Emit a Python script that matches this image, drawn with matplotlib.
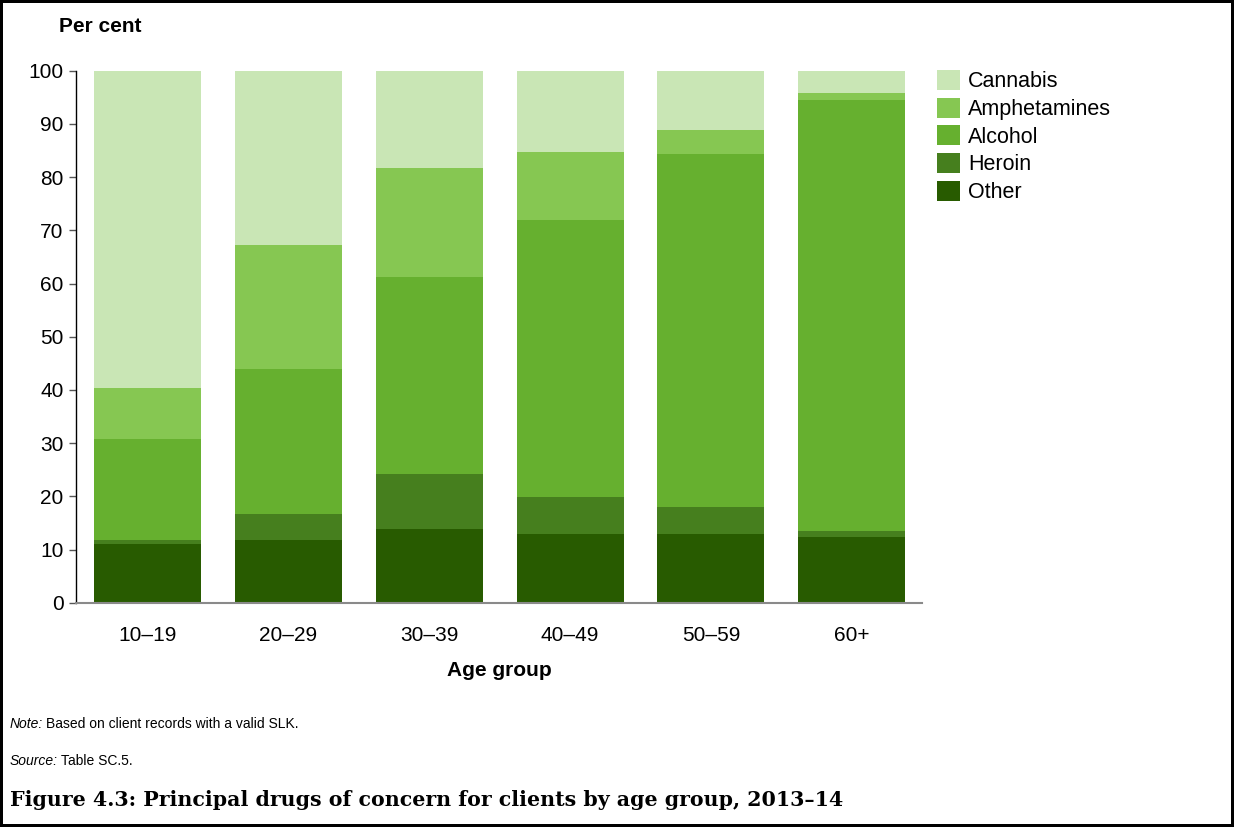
import numpy as np
import matplotlib
matplotlib.use('Agg')
import matplotlib.pyplot as plt

plt.rcParams['font.family'] = ['Liberation Sans', 'DejaVu Sans']

# 연령대별 주요 약물 (%)
age_groups = ['10–19', '20–29', '30–39', '40–49', '50–59', '60+']
other = [11.0, 11.8, 13.9, 12.9, 13.0, 12.3]
heroin = [0.7, 4.8, 10.3, 7.0, 5.0, 1.2]
alcohol = [19.1, 27.4, 37.0, 52.0, 66.3, 81.0]
amphetamines = [9.6, 23.2, 20.6, 12.9, 4.6, 1.3]
cannabis = [59.6, 32.8, 18.2, 15.2, 11.1, 4.2]

series = [('Other', other, '#285B00'),
          ('Heroin', heroin, '#467F1E'),
          ('Alcohol', alcohol, '#66B02F'),
          ('Amphetamines', amphetamines, '#86C752'),
          ('Cannabis', cannabis, '#C9E6B5')]

W, H = 1234, 827
fig = plt.figure(figsize=(W/100, H/100), dpi=100)
fig.patch.set_edgecolor('black')
fig.patch.set_linewidth(3)
ax = fig.add_axes([76/W, 1-602.7/H, (922-76)/W, (602.7-70.7)/H])

x = np.arange(len(age_groups))
bottom = np.zeros(len(age_groups))
handles = []
for name, vals, col in series:
    b = ax.bar(x, vals, width=0.76, bottom=bottom, color=col, label=name, zorder=2)
    handles.append(b)
    bottom += np.array(vals)

ax.set_xlim(-0.51, 5.5)
ax.set_ylim(0, 100)
ax.set_yticks(range(0, 101, 10))
ax.set_xticks(x)
ax.set_xticklabels(age_groups)
ax.tick_params(axis='y', labelsize=15, length=5, width=1, color='#555555', pad=4)
ax.tick_params(axis='x', labelsize=15, length=0, pad=17)
ax.spines['top'].set_visible(False)
ax.spines['right'].set_visible(False)
ax.spines['left'].set_color('black')
ax.spines['left'].set_linewidth(1)
ax.spines['bottom'].set_color('#8a8a8a')
ax.spines['bottom'].set_linewidth(1.5)
ax.spines['bottom'].set_zorder(3)

fig.text(59/W, 1-26/H, 'Per cent', fontsize=15, fontweight='bold', va='center', ha='left')
fig.text(499/W, 1-671/H, 'Age group', fontsize=15, fontweight='bold', va='center', ha='center')

leg = fig.legend(handles[::-1], [s[0] for s in series][::-1],
                 loc='upper left', bbox_to_anchor=(937/W, 1-70/H),
                 frameon=False, fontsize=15.5, borderpad=0, borderaxespad=0,
                 handlelength=1.05, handleheight=1.05, handletextpad=0.4,
                 labelspacing=0.25)

# 주석
renderer = fig.canvas.get_renderer()
def label_line(y, head, body):
    t = fig.text(10/W, 1-y/H, head, fontsize=10, style='italic', va='center', ha='left')
    bb = t.get_window_extent(renderer)
    fig.text((bb.x1 + 3)/W, 1-y/H, body, fontsize=10, va='center', ha='left')

label_line(724, 'Note:', 'Based on client records with a valid SLK.')
label_line(761, 'Source:', 'Table SC.5.')
fig.text(10/W, 1-800/H, 'Figure 4.3: Principal drugs of concern for clients by age group, 2013–14',
         fontsize=14.8, fontweight='bold', family=['DejaVu Serif'],
         va='center', ha='left')

fig.savefig('out.png', dpi=100)
